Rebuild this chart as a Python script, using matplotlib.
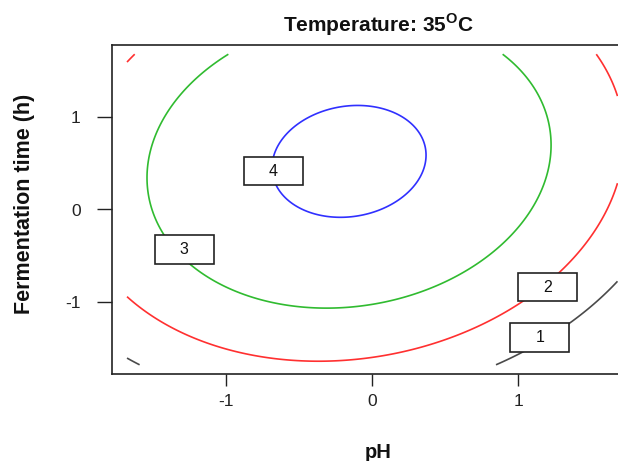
import numpy as np
import matplotlib.pyplot as plt
from matplotlib.patches import Rectangle

plt.rcParams['font.family'] = ['Liberation Sans', 'DejaVu Sans']
plt.rcParams['mathtext.fontset'] = 'custom'
plt.rcParams['mathtext.rm'] = 'Liberation Sans'
plt.rcParams['mathtext.bf'] = 'Liberation Sans:bold'

# second order model at 35 C, coded units
# terms: intercept, pH, time, pH^2, time^2, pH*time
b0 = 4.017
b_ph, b_time = -0.259, 0.508
b_ph2, b_time2 = -0.617, -0.469
b_ph_time = 0.12

# design range (rotatable CCD, alpha = 1.682)
coded_min, coded_max = -1.682, 1.682

levels = [1, 2, 3, 4]
level_colors = ['#4a4a4a', '#ff3030', '#30bb30', '#3030ff']
# where R put the contour labels
label_x = [1.15, 1.20, -1.29, -0.68]
label_y = [-1.385, -0.84, -0.433, 0.415]

x_ticks = [-1, 0, 1]
y_ticks = [-1, 0, 1]

ph = np.linspace(coded_min, coded_max, 200)
tm = np.linspace(coded_min, coded_max, 200)
X, Y = np.meshgrid(ph, tm)
Z = (b0 + b_ph * X + b_time * Y + b_ph2 * X ** 2 + b_time2 * Y ** 2
     + b_ph_time * X * Y)

W, H = 618, 461
fig = plt.figure(figsize=(W / 100, H / 100), dpi=100)
# right side of the plot box is cut off in the original
ax = fig.add_axes([112 / W, (H - 374.3) / H, 520.5 / W, 329.6 / H])

ax.contour(X, Y, Z, levels=levels, colors=level_colors, linewidths=1.2)

ax.set_xlim(-1.785, 1.785)
ax.set_ylim(-1.785, 1.785)
ax.set_xticks(x_ticks)
ax.set_yticks(y_ticks)
ax.set_xticklabels([str(v) for v in x_ticks])
ax.set_yticklabels([str(v) for v in y_ticks])
ax.tick_params(axis='x', direction='out', length=8.5, width=1.0, pad=6,
               labelsize=12.5, colors='#222222')
ax.tick_params(axis='y', direction='out', length=10.5, width=1.0, pad=12,
               labelsize=12.5, colors='#222222')
for s in ax.spines.values():
    s.set_linewidth(1.2)
    s.set_color('#222222')

# boxed contour labels, size in pixels
bw = 59 / 145.8
bh = 28.5 / 92.2
for lx, ly, lv in zip(label_x, label_y, levels):
    ax.add_patch(Rectangle((lx - bw / 2, ly - bh / 2), bw, bh, facecolor='white',
                           edgecolor='#222222', linewidth=1.2, zorder=5))
    ax.text(lx, ly, str(lv), ha='center', va='center', fontsize=11.5,
            color='#111111', zorder=6)

fig.text(379 / W, 1 - 31.5 / H, r'Temperature: 35$^{\mathbf{O}}$C',
         ha='center', va='baseline', fontsize=15, fontweight='bold',
         color='#111111')
fig.text(378 / W, 1 - 458 / H, 'pH', ha='center', va='baseline',
         fontsize=14.5, fontweight='bold', color='#111111')
fig.text(25 / W, 1 - 203.5 / H, 'Fermentation time (h)', rotation=90,
         ha='center', va='center', fontsize=15.5, fontweight='bold',
         color='#111111')

fig.savefig('out.png', dpi=100)
